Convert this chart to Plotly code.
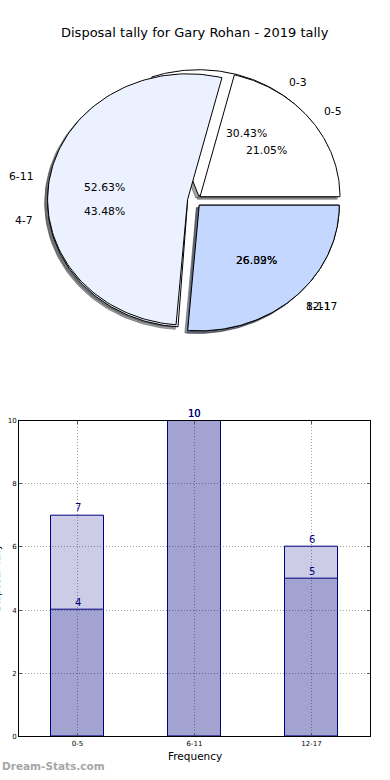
import numpy as np
import plotly.graph_objects as go

# ---------------- data ----------------
chart_title = "Disposal tally for Gary Rohan - 2019 tally"
pie_a_labels = ["0-3", "4-7", "8-11"]
pie_a_values = [7, 10, 6]
pie_b_labels = ["0-5", "6-11", "12-17"]
pie_b_values = [4, 10, 5]
slice_colors = ["#FFFFFF", "#EBF1FF", "#C4D8FF"]
bar_categories = ["0-5", "6-11", "12-17"]
bar_back = [7, 10, 6]
bar_front = [4, 10, 5]
y_ticks = [0, 2, 4, 6, 8, 10]

W, H = 390, 780
EXPLODE = 0.05
SHADOW = 0.02


def px_x(p):
    return p / W


def px_y(p):
    return 1 - p / H


fig = go.Figure()


def wedges(values):
    total = float(sum(values))
    out = []
    start = 0.0
    for v in values:
        frac = v / total
        t1 = start * 360.0
        t2 = (start + frac) * 360.0
        mid = np.deg2rad((t1 + t2) / 2)
        cx = EXPLODE * np.cos(mid)
        cy = EXPLODE * np.sin(mid)
        th = np.deg2rad(np.linspace(t1, t2, 120))
        xs = np.concatenate([[cx], cx + np.cos(th), [cx]])
        ys = np.concatenate([[cy], cy + np.sin(th), [cy]])
        out.append((xs, ys, mid, cx, cy, frac))
        start += frac
    return out


pies = [(pie_a_labels, pie_a_values), (pie_b_labels, pie_b_values)]
pie_geo = [wedges(v) for _, v in pies]

# shadows (below all wedges)
for geo in pie_geo:
    for i, (xs, ys, mid, cx, cy, frac) in enumerate(geo):
        c = slice_colors[i]
        r, g, b = int(c[1:3], 16), int(c[3:5], 16), int(c[5:7], 16)
        sc = f"rgba({int(r*0.3)},{int(g*0.3)},{int(b*0.3)},0.5)"
        fig.add_trace(go.Scatter(x=xs - SHADOW, y=ys - SHADOW, mode="lines",
                                 fill="toself", fillcolor=sc,
                                 line=dict(color=sc, width=1),
                                 xaxis="x2", yaxis="y2", hoverinfo="skip",
                                 showlegend=False))

# wedges
for (labels, values), geo in zip(pies, pie_geo):
    for i, (xs, ys, mid, cx, cy, frac) in enumerate(geo):
        fig.add_trace(go.Scatter(x=xs, y=ys, mode="lines", fill="toself",
                                 fillcolor=slice_colors[i],
                                 line=dict(color="black", width=1),
                                 xaxis="x2", yaxis="y2", name=labels[i],
                                 hoverinfo="name", showlegend=False))

annotations = []
pie_font = dict(family="DejaVu Sans", size=10.8, color="black")
for (labels, values), geo in zip(pies, pie_geo):
    for i, (xs, ys, mid, cx, cy, frac) in enumerate(geo):
        lx = cx + 1.1 * np.cos(mid)
        ly = cy + 1.1 * np.sin(mid)
        annotations.append(dict(x=lx, y=ly, xref="x2", yref="y2",
                                text=labels[i], showarrow=False,
                                xanchor="left" if np.cos(mid) > 0 else "right",
                                yanchor="middle", font=pie_font))
        tx = cx + 0.6 * np.cos(mid)
        ty = cy + 0.6 * np.sin(mid)
        annotations.append(dict(x=tx, y=ty, xref="x2", yref="y2",
                                text=f"{frac*100:.2f}%", showarrow=False,
                                xanchor="center", yanchor="middle",
                                font=pie_font))

# ---------------- bars ----------------
bar_fill = "rgba(0,0,128,0.2)"
for vals in (bar_back, bar_front):
    fig.add_trace(go.Bar(x=bar_categories, y=vals, width=0.45,
                         marker=dict(color=bar_fill,
                                     line=dict(color="#000080", width=1)),
                         xaxis="x", yaxis="y", showlegend=False))
    for c, v in zip(bar_categories, vals):
        annotations.append(dict(x=c, y=v, xref="x", yref="y", text=str(v),
                                showarrow=False, yanchor="bottom", yshift=0,
                                font=dict(family="DejaVu Sans", size=10,
                                          color="#000080")))

# title, labels, watermark
annotations.append(dict(x=0.5, y=px_y(28.5), xref="paper", yref="paper",
                        text=chart_title, showarrow=False, xanchor="center",
                        yanchor="middle",
                        font=dict(family="DejaVu Sans", size=13, color="black")))
annotations.append(dict(x=px_x(194.5), y=px_y(760), xref="paper", yref="paper",
                        text="Frequency", showarrow=False, xanchor="center",
                        yanchor="middle",
                        font=dict(family="DejaVu Sans", size=10.5, color="black")))
annotations.append(dict(x=0, y=px_y(580), xref="paper", yref="paper",
                        text="Disposal Tally", showarrow=False, textangle=-90,
                        xanchor="right", xshift=4, yanchor="middle",
                        font=dict(family="DejaVu Sans", size=10, color="black")))
annotations.append(dict(x=0, y=px_y(770), xref="paper", yref="paper",
                        text="<b>Dream-Stats.com</b>", showarrow=False,
                        xanchor="left", yanchor="middle",
                        font=dict(family="DejaVu Sans", size=10.5,
                                  color="#A6A6A6")))

grid_dash = "1px,2px"
fig.update_layout(
    width=W, height=H, margin=dict(l=0, r=0, t=0, b=0, pad=0),
    paper_bgcolor="white", plot_bgcolor="white",
    barmode="overlay", bargap=0,
    annotations=annotations,
    xaxis=dict(domain=[px_x(19), px_x(370)], range=[-0.5, 2.5],
               type="category", showline=True, linecolor="black",
               linewidth=1, mirror="allticks", ticks="inside", ticklen=3,
               tickcolor="#555", showgrid=True, gridcolor="#A0A0A0",
               griddash=grid_dash, gridwidth=1,
               tickfont=dict(family="DejaVu Sans", size=7, color="black"),
               zeroline=False),
    yaxis=dict(domain=[px_y(740), px_y(421)], range=[0, 10],
               tickvals=y_ticks, showline=True, linecolor="black",
               linewidth=1, mirror="allticks", ticks="inside", ticklen=3,
               tickcolor="#555", showgrid=True, gridcolor="#A0A0A0",
               griddash=grid_dash, gridwidth=1,
               tickfont=dict(family="DejaVu Sans", size=7, color="black"),
               zeroline=False),
    xaxis2=dict(domain=[0, 1], range=[-194.5 / 140, (W - 194.5) / 140],
                visible=False, fixedrange=True),
    yaxis2=dict(domain=[px_y(380), px_y(40)],
                range=[-(380 - 198.6) / 127, (198.6 - 40) / 127],
                visible=False, fixedrange=True),
)

fig.write_html("out.html", config={"displayModeBar": False},
               post_script="document.body.style.margin='0';"
                           "document.body.style.padding='0';")
